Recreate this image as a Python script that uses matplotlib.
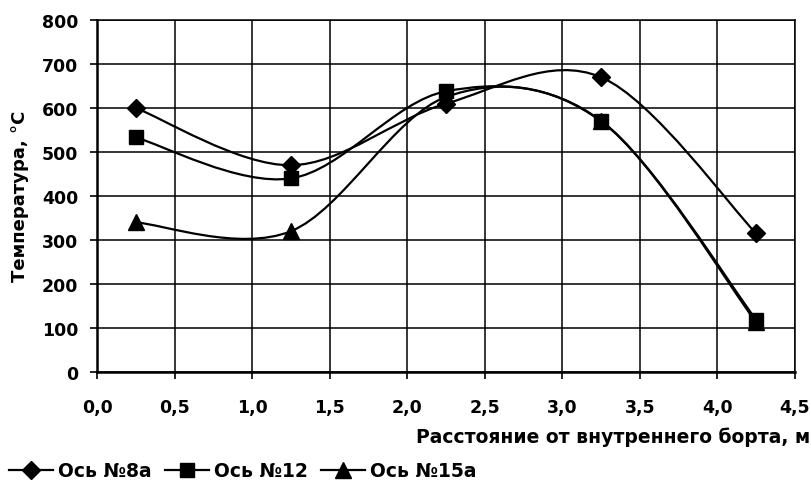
import numpy as np
import matplotlib
matplotlib.use('Agg')
import matplotlib.pyplot as plt
from matplotlib.path import Path
from matplotlib.patches import PathPatch
from matplotlib.lines import Line2D
from matplotlib.ticker import FuncFormatter, MultipleLocator

plt.rcParams['font.family'] = ['DejaVu Sans']
plt.rcParams['font.weight'] = 'bold'

# данные
distance = [0.25, 1.25, 2.25, 3.25, 4.25]
temp_8a = [600, 470, 610, 670, 315]
temp_12 = [533, 440, 638, 571, 119]
temp_15a = [340, 320, 625, 570, 113]

series = [
    ('Ось №8а', temp_8a, 'D', 9),
    ('Ось №12', temp_12, 's', 10),
    ('Ось №15а', temp_15a, '^', 11),
]


def smooth_path(xs, ys):
    # сглаживание как в Excel (кривые Безье через точки)
    pts = np.column_stack([xs, ys]).astype(float)
    n = len(pts)
    verts = [pts[0]]
    codes = [Path.MOVETO]
    for i in range(n - 1):
        p0 = pts[i - 1] if i > 0 else pts[i]
        p1 = pts[i]
        p2 = pts[i + 1]
        p3 = pts[i + 2] if i + 2 < n else pts[i + 1]
        c1 = p1 + (p2 - p0) / 6.0
        c2 = p2 - (p3 - p1) / 6.0
        verts += [c1, c2, p2]
        codes += [Path.CURVE4] * 3
    return Path(verts, codes)


fig = plt.figure(figsize=(8.12, 4.81), dpi=100)
ax = fig.add_axes([0.1195, 0.2245, 0.979 - 0.1195, 0.9563 - 0.2245])

for name, vals, mk, ms in series:
    ax.add_patch(PathPatch(smooth_path(distance, vals), fill=False,
                           edgecolor='black', lw=1.6, zorder=3))
    ax.plot(distance, vals, linestyle='none', marker=mk, markersize=ms,
            color='black', zorder=4)

ax.set_xlim(0, 4.5)
ax.set_ylim(0, 800)
ax.xaxis.set_major_locator(MultipleLocator(0.5))
ax.yaxis.set_major_locator(MultipleLocator(100))
ax.xaxis.set_major_formatter(FuncFormatter(lambda v, p: f'{v:.1f}'.replace('.', ',')))
ax.yaxis.set_major_formatter(FuncFormatter(lambda v, p: f'{v:.0f}'))
ax.grid(True, color='black', lw=1.1)
ax.set_axisbelow(True)
for s in ax.spines.values():
    s.set_linewidth(1.1)
ax.spines['left'].set_linewidth(1.8)
ax.spines['bottom'].set_linewidth(1.8)
ax.tick_params(direction='out', length=5, width=1.2, labelsize=12.5)
ax.tick_params(axis='x', pad=14)
ax.tick_params(axis='y', pad=8.5)
for lab in ax.get_xticklabels() + ax.get_yticklabels():
    lab.set_fontweight('bold')

fig.text(0.0246, 0.5925, 'Температура, °С', rotation=90, ha='center', va='center',
         fontsize=13, fontweight='bold')
fig.text(0.998, 0.0915, 'Расстояние от внутреннего борта, м', ha='right',
         va='center', fontsize=13.5, fontweight='bold')

handles = [Line2D([0], [0], color='black', lw=1.6, marker=mk, markersize=ms)
           for name, vals, mk, ms in series]
fig.legend(handles, [s[0] for s in series], loc='lower left',
           bbox_to_anchor=(0.0, -0.02), ncol=3, frameon=False,
           prop={'size': 13.5, 'weight': 'bold'}, handlelength=2.35,
           handletextpad=0.27, columnspacing=0.7, borderaxespad=0.3,
           borderpad=0.2)

fig.savefig('out.png', dpi=100)
